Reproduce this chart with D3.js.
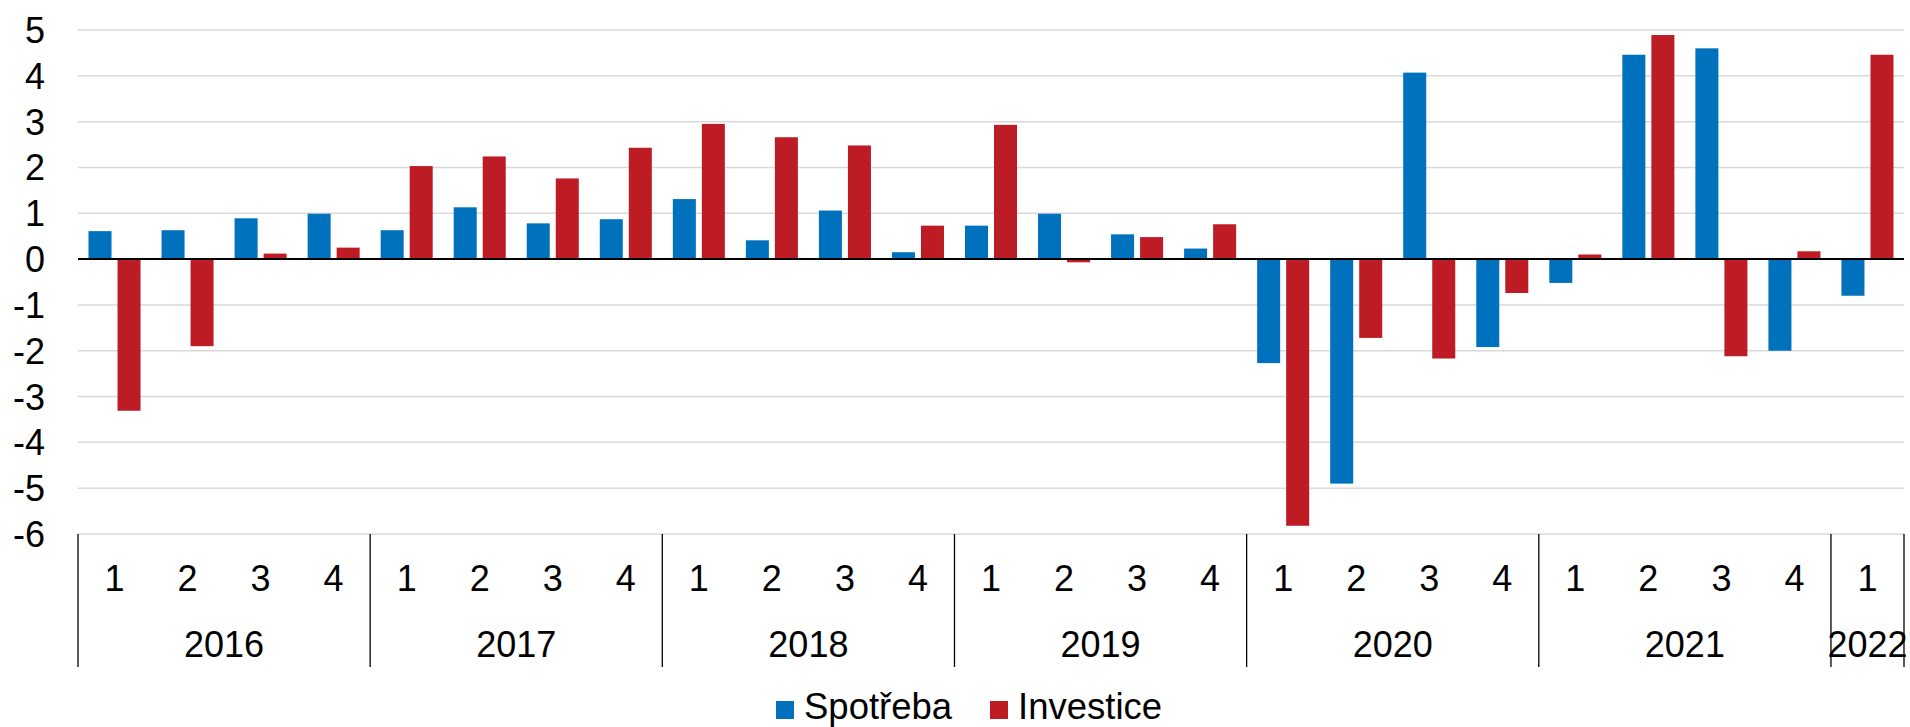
<!DOCTYPE html>
<html>
<head>
<meta charset="utf-8">
<script src="https://cdn.jsdelivr.net/npm/d3@7"></script>
<style>
  body { margin: 0; background: #fff; }
  svg text { font-family: "Liberation Sans", Arial, sans-serif; fill: #000; }
</style>
</head>
<body>
<svg id="canvas" width="1910" height="727"></svg>
<script>
// data (quarterly, 2016 Q1 .. 2022 Q1)
let years = ['2016', '2017', '2018', '2019', '2020', '2021', '2022'];
let quarters = ['1', '2', '3', '4'];
let seriesNames = ['Spotřeba', 'Investice'];
let seriesColors = ['#0071bc', '#be1c24'];
let spotreba = [0.61, 0.63, 0.89, 0.99, 0.63, 1.13, 0.78, 0.87, 1.31, 0.41, 1.06, 0.15,
                0.73, 0.99, 0.54, 0.23, -2.27, -4.9, 4.07, -1.92, -0.52, 4.46, 4.6, -2.0, -0.8];
let investice = [-3.31, -1.9, 0.12, 0.25, 2.03, 2.24, 1.76, 2.43, 2.95, 2.66, 2.48, 0.73,
                 2.93, -0.07, 0.48, 0.76, -5.82, -1.72, -2.17, -0.74, 0.1, 4.89, -2.12, 0.17, 4.46];
let yTicks = [5, 4, 3, 2, 1, 0, -1, -2, -3, -4, -5, -6];

// one entry per quarter
let periods = [];
years.forEach((yr) => {
    quarters.forEach((q) => {
        if (periods.length < spotreba.length) periods.push({year: yr, q: q, key: yr + '-' + q});
    });
});

let canvas = d3.select('#canvas');
let plotLeft = 78, plotRight = 1904, plotTop = 30, plotBottom = 534;

let x = d3.scaleBand().domain(periods.map((p) => p.key)).range([plotLeft, plotRight]);
let xInner = d3.scaleBand().domain(seriesNames)
                .range([10.5, x.bandwidth() - 10.5]).paddingInner(0.207);
let y = d3.scaleLinear().domain([-6, 5]).range([plotBottom, plotTop]);

// gridlines
canvas.append('g')
    .selectAll('line')
    .data(yTicks.filter((t) => t !== 0))
    .enter()
    .append('line')
    .attr('x1', plotLeft).attr('x2', plotRight)
    .attr('y1', (t) => y(t)).attr('y2', (t) => y(t))
    .attr('stroke', '#d9d9d9').attr('stroke-width', 1.5);

// y labels
canvas.append('g')
    .selectAll('text')
    .data(yTicks)
    .enter()
    .append('text')
    .attr('x', 45)
    .attr('y', (t) => y(t))
    .attr('dy', '0.36em')
    .attr('text-anchor', 'end')
    .style('font-size', '36px')
    .text((t) => t);

// bars
let rows = periods.map((p, i) => ({key: p.key, values: [spotreba[i], investice[i]]}));
let group = canvas.append('g')
    .selectAll('g')
    .data(rows)
    .enter()
    .append('g')
    .attr('transform', (d) => 'translate(' + x(d.key) + ',0)');

group.selectAll('rect')
    .data((d) => d.values.map((v, j) => ({name: seriesNames[j], value: v, color: seriesColors[j]})))
    .enter()
    .append('rect')
    .attr('x', (d) => xInner(d.name))
    .attr('width', xInner.bandwidth())
    .attr('y', (d) => Math.min(y(d.value), y(0)))
    .attr('height', (d) => Math.abs(y(d.value) - y(0)))
    .attr('fill', (d) => d.color);

// zero line
canvas.append('line')
    .attr('x1', plotLeft).attr('x2', plotRight)
    .attr('y1', y(0)).attr('y2', y(0))
    .attr('stroke', '#000').attr('stroke-width', 2);

// category axis: quarter labels
canvas.append('g')
    .selectAll('text')
    .data(periods)
    .enter()
    .append('text')
    .attr('x', (p) => x(p.key) + x.bandwidth() / 2)
    .attr('y', 591)
    .attr('text-anchor', 'middle')
    .style('font-size', '36px')
    .text((p) => p.q);

// year groups: separators and labels
let yearSpans = years.map((yr) => {
    let keys = periods.filter((p) => p.year === yr).map((p) => p.key);
    return {year: yr, x0: x(keys[0]), x1: x(keys[keys.length - 1]) + x.bandwidth()};
});
let sepX = [plotLeft].concat(yearSpans.map((s) => s.x1));
canvas.append('g')
    .selectAll('line')
    .data(sepX)
    .enter()
    .append('line')
    .attr('x1', (d) => d).attr('x2', (d) => d)
    .attr('y1', plotBottom).attr('y2', 667)
    .attr('stroke', '#000').attr('stroke-width', 1.3);

canvas.append('g')
    .selectAll('text')
    .data(yearSpans)
    .enter()
    .append('text')
    .attr('x', (s) => (s.x0 + s.x1) / 2)
    .attr('y', 657)
    .attr('text-anchor', 'middle')
    .style('font-size', '36px')
    .text((s) => s.year);

// legend
let legendItems = [{name: seriesNames[0], color: seriesColors[0], x: 776},
                   {name: seriesNames[1], color: seriesColors[1], x: 990}];
let legend = canvas.append('g')
    .selectAll('g')
    .data(legendItems)
    .enter()
    .append('g')
    .attr('transform', (d) => 'translate(' + d.x + ',701)');
legend.append('rect')
    .attr('width', 18).attr('height', 18)
    .attr('fill', (d) => d.color);
legend.append('text')
    .attr('x', 28)
    .attr('y', 18)
    .style('font-size', '36.5px')
    .text((d) => d.name);
</script>
</body>
</html>
